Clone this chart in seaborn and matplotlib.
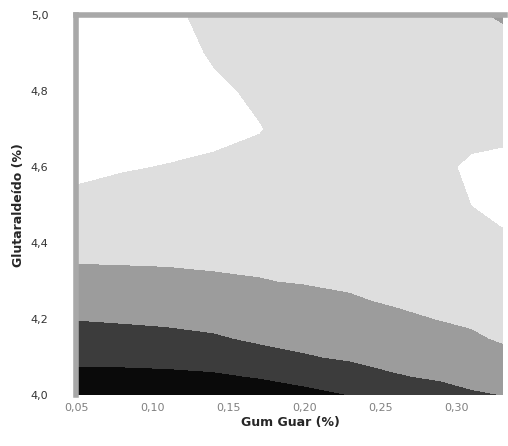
import numpy as np
import matplotlib
matplotlib.use("Agg")
import matplotlib.pyplot as plt
import seaborn as sns

# Grid (Gum Guar %, Glutaraldehyde %)
gum_guar = [0.05, 0.08, 0.11, 0.14, 0.17, 0.20, 0.23, 0.26, 0.29, 0.31, 0.33]
glutar = [4.0, 4.05, 4.1, 4.15, 4.2, 4.25, 4.3, 4.35, 4.4, 4.5, 4.6, 4.7, 4.8, 4.9, 5.0]

# response level estimated at each grid point (rows = glutar, cols = gum_guar)
col_005 = [0.40, 0.80, 1.20, 1.61, 2.02, 2.36, 2.69, 3.02, 3.26, 3.75, 4.20, 4.50, 4.70, 4.80, 4.90]
col_008 = [0.40, 0.79, 1.22, 1.67, 2.09, 2.42, 2.74, 3.04, 3.24, 3.65, 4.05, 4.40, 4.70, 4.80, 4.90]
col_011 = [0.40, 0.82, 1.27, 1.76, 2.16, 2.47, 2.79, 3.06, 3.24, 3.60, 3.96, 4.30, 4.40, 4.35, 4.20]
col_014 = [0.40, 0.88, 1.39, 1.90, 2.25, 2.56, 2.88, 3.10, 3.25, 3.57, 3.89, 4.15, 4.15, 3.90, 3.70]
col_017 = [0.45, 1.06, 1.68, 2.13, 2.41, 2.69, 2.97, 3.10, 3.25, 3.50, 3.75, 4.03, 3.85, 3.60, 3.50]
col_020 = [0.70, 1.33, 1.93, 2.24, 2.51, 2.78, 3.04, 3.15, 3.30, 3.50, 3.60, 3.65, 3.60, 3.55, 3.50]
col_023 = [1.00, 1.60, 2.10, 2.37, 2.65, 2.93, 3.10, 3.20, 3.30, 3.45, 3.55, 3.55, 3.50, 3.50, 3.45]
col_026 = [1.35, 1.94, 2.26, 2.56, 2.85, 3.08, 3.20, 3.30, 3.40, 3.55, 3.65, 3.60, 3.50, 3.45, 3.40]
col_029 = [1.65, 2.12, 2.42, 2.73, 3.02, 3.15, 3.27, 3.38, 3.50, 3.75, 3.88, 3.75, 3.55, 3.45, 3.30]
col_031 = [1.90, 2.24, 2.56, 2.90, 3.10, 3.22, 3.35, 3.50, 3.65, 4.00, 4.10, 3.80, 3.55, 3.40, 3.10]
col_033 = [2.00, 2.38, 2.77, 3.08, 3.22, 3.40, 3.55, 3.70, 3.85, 4.20, 4.25, 3.75, 3.50, 3.30, 2.90]

levels = [-1, 1, 2, 3, 4, 6]
level_colors = ["#0a0a0a", "#3c3c3c", "#9c9c9c", "#dedede", "#ffffff"]

x_ticks = [0.05, 0.10, 0.15, 0.20, 0.25, 0.30]
x_tick_labels = ["0,05", "0,10", "0,15", "0,20", "0,25", "0,30"]
y_ticks = [4.0, 4.2, 4.4, 4.6, 4.8, 5.0]
y_tick_labels = ["4,0", "4,2", "4,4", "4,6", "4,8", "5,0"]

sns.set_theme(style="white")
plt.rcParams["font.family"] = ["DejaVu Sans"]

Z = np.array([col_005, col_008, col_011, col_014, col_017, col_020,
              col_023, col_026, col_029, col_031, col_033]).T

fig = plt.figure(figsize=(5.08, 4.46), dpi=100)
ax = fig.add_axes([0.150, 0.114, 0.844, 0.852])
ax.contourf(gum_guar, glutar, Z, levels=levels, colors=level_colors)
ax.set_xlim(0.05, 0.3316)
ax.set_ylim(4.0, 5.0)

ax.set_xticks(x_ticks)
ax.set_xticklabels(x_tick_labels, fontsize=8, color="#808080")
ax.set_yticks(y_ticks)
ax.set_yticklabels(y_tick_labels, fontsize=8, color="#333333")
ax.tick_params(axis="x", direction="in", length=5, color="#909090", pad=6)
ax.tick_params(axis="y", direction="in", length=0, pad=20)

for side in ["left", "top"]:
    ax.spines[side].set_color("#a8a8a8")
    ax.spines[side].set_linewidth(4)
for side in ["right", "bottom"]:
    ax.spines[side].set_visible(False)

ax.set_xlabel("Gum Guar (%)", fontsize=9, fontweight="bold", labelpad=2)
ax.set_ylabel("Glutaraldeído (%)", fontsize=9, fontweight="bold", labelpad=4)

fig.savefig("out.png", dpi=100)
